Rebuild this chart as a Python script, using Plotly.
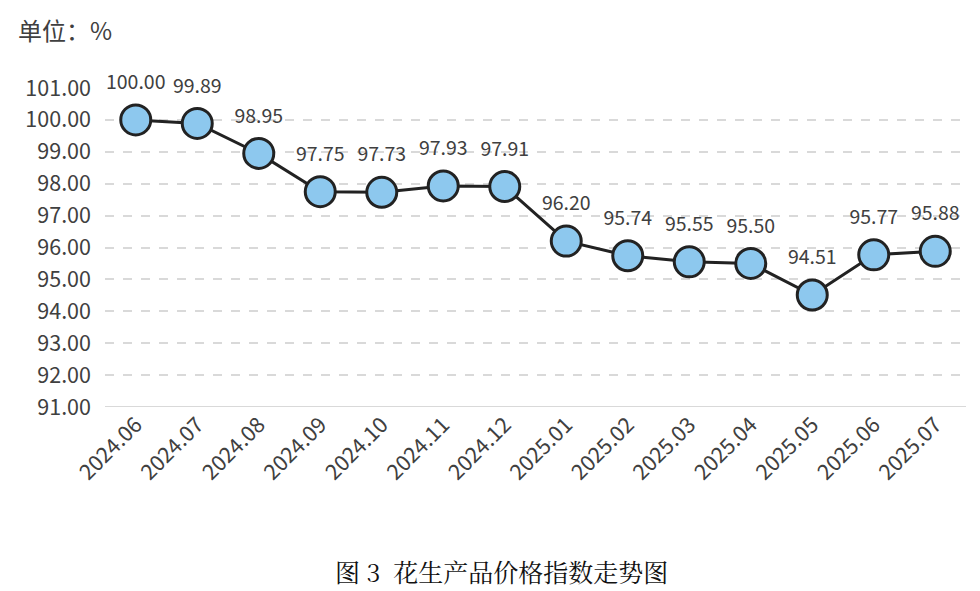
import plotly.graph_objects as go

months = ["2024.06", "2024.07", "2024.08", "2024.09", "2024.10", "2024.11", "2024.12",
          "2025.01", "2025.02", "2025.03", "2025.04", "2025.05", "2025.06", "2025.07"]
index_values = [100.00, 99.89, 98.95, 97.75, 97.73, 97.93, 97.91,
                96.20, 95.74, 95.55, 95.50, 94.51, 95.77, 95.88]
y_ticks = [91, 92, 93, 94, 95, 96, 97, 98, 99, 100, 101]

fig = go.Figure()
fig.add_trace(go.Scatter(
    x=months, y=index_values,
    mode="lines+markers",
    line=dict(color="#222222", width=3),
    marker=dict(size=30, color="#8DC8EE", line=dict(color="#222222", width=3)),
    cliponaxis=False,
    hoverinfo="x+y",
))
# value labels (transparent marker only sets the label distance)
fig.add_trace(go.Scatter(
    x=months, y=index_values,
    mode="markers+text",
    marker=dict(size=40, color="rgba(0,0,0,0)"),
    text=[f"{v:.2f}" for v in index_values],
    textposition="top center",
    textfont=dict(family="Noto Sans CJK SC", size=19.5, color="#404040"),
    cliponaxis=False,
    hoverinfo="skip",
))

fig.update_layout(
    width=972, height=583,
    margin=dict(l=97, r=14, t=80, b=184),
    paper_bgcolor="white", plot_bgcolor="white",
    showlegend=False,
    font=dict(family="Noto Sans CJK SC", color="#404040"),
    xaxis=dict(
        type="category",
        tickangle=-45,
        tickfont=dict(size=21.5, color="#404040"),
        showgrid=False,
        showline=False,
        ticks="",
        automargin=False,
        range=[-0.5, len(months) - 0.5],
    ),
    yaxis=dict(
        range=[91, 101],
        tickvals=y_ticks,
        tickformat=".2f",
        tickfont=dict(size=21.5, color="#404040"),
        showgrid=True,
        gridcolor="#d9d9d9",
        griddash="dash",
        gridwidth=1.5,
        zeroline=False,
        showline=False,
        ticks="",
        automargin=False,
        ticklabelstandoff=13,
    ),
    annotations=[
        dict(text="单位：%", xref="paper", yref="paper", x=-0.1034, y=1.182,
             xanchor="left", yanchor="middle", showarrow=False,
             font=dict(size=24, color="#404040", family="Noto Sans CJK SC")),
        dict(text="图 3  花生产品价格指数走势图", xref="paper", yref="paper", x=0.46, y=-0.514,
             xanchor="center", yanchor="middle", showarrow=False,
             font=dict(size=25, color="#111111", family="Noto Serif CJK SC, Noto Sans CJK SC")),
    ],
    shapes=[dict(type="line", xref="paper", yref="y", x0=0, x1=1, y0=91, y1=91,
                 line=dict(color="#d9d9d9", width=2))],
)

fig.write_html("out.html")
